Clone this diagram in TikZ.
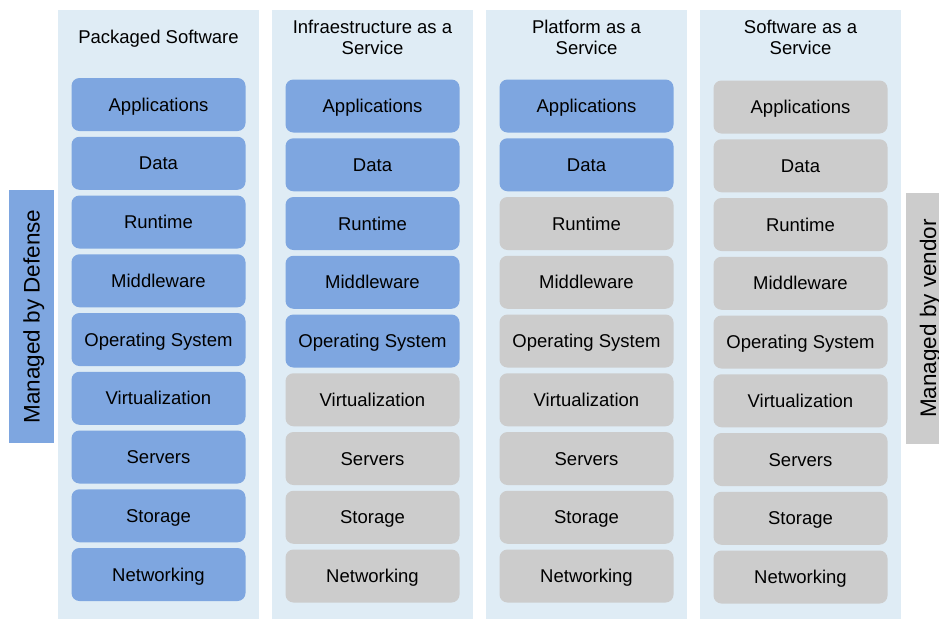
\documentclass[tikz,border=0pt]{standalone}
\usepackage{fontspec}
\setmainfont{Liberation Sans}
\definecolor{laneblue}{HTML}{DFECF5}
\definecolor{ownblue}{HTML}{7EA6E0}
\definecolor{vendgray}{HTML}{CCCCCC}

\begin{document}
\begin{tikzpicture}[x=1pt,y=-1pt,
 layer/.style={rounded corners=8pt,minimum width=174pt,minimum height=53pt,inner sep=0pt,text height=13pt,text depth=0pt,font=\fontsize{18.5}{21}\selectfont},
 own/.style={layer,fill=ownblue},
 vend/.style={layer,fill=vendgray},
 head/.style={align=center,inner sep=0pt,font=\fontsize{18.5}{21}\selectfont},
 side/.style={rotate=90,inner sep=0pt,text height=16pt,text depth=0pt,font=\fontsize{22.5}{26}\selectfont}]
 \useasboundingbox (0,0) rectangle (939,619);
 % lanes
 \fill[laneblue] (58,10) rectangle (259,619);
 \fill[laneblue] (272,10) rectangle (473,619);
 \fill[laneblue] (486,10) rectangle (687,619);
 \fill[laneblue] (700,10) rectangle (901,619);
 % side labels
 \fill[ownblue] (9,190) rectangle (54,443);
 \fill[vendgray] (906,193) rectangle (939,444);
 \node[side] (bydef) at (31.5,316.5) {Managed by Defense};
 \node[side] (byvend) at (928,318.5) {Managed by vendor};
 % packaged software
 \node[head] (pshead) at (158.5,38.5) {Packaged Software};
 \node[own] (ps-app) at (158.5,104.5) {Applications};
 \node[own] (ps-data) at (158.5,163.25) {Data};
 \node[own] (ps-run) at (158.5,222) {Runtime};
 \node[own] (ps-mid) at (158.5,280.75) {Middleware};
 \node[own] (ps-os) at (158.5,339.5) {Operating System};
 \node[own] (ps-virt) at (158.5,398.25) {Virtualization};
 \node[own] (ps-srv) at (158.5,457) {Servers};
 \node[own] (ps-sto) at (158.5,515.75) {Storage};
 \node[own] (ps-net) at (158.5,574.5) {Networking};
 % infrastructure
 \node[head] (iaashead) at (372.5,37) {Infraestructure as a\\Service};
 \node[own] (iaas-app) at (372.5,106) {Applications};
 \node[own] (iaas-data) at (372.5,164.75) {Data};
 \node[own] (iaas-run) at (372.5,223.5) {Runtime};
 \node[own] (iaas-mid) at (372.5,282.25) {Middleware};
 \node[own] (iaas-os) at (372.5,341) {Operating System};
 \node[vend] (iaas-virt) at (372.5,399.75) {Virtualization};
 \node[vend] (iaas-srv) at (372.5,458.5) {Servers};
 \node[vend] (iaas-sto) at (372.5,517.25) {Storage};
 \node[vend] (iaas-net) at (372.5,576) {Networking};
 % platform
 \node[head] (paashead) at (586.5,37) {Platform as a\\Service};
 \node[own] (paas-app) at (586.5,106) {Applications};
 \node[own] (paas-data) at (586.5,164.75) {Data};
 \node[vend] (paas-run) at (586.5,223.5) {Runtime};
 \node[vend] (paas-mid) at (586.5,282.25) {Middleware};
 \node[vend] (paas-os) at (586.5,341) {Operating System};
 \node[vend] (paas-virt) at (586.5,399.75) {Virtualization};
 \node[vend] (paas-srv) at (586.5,458.5) {Servers};
 \node[vend] (paas-sto) at (586.5,517.25) {Storage};
 \node[vend] (paas-net) at (586.5,576) {Networking};
 % software
 \node[head] (saashead) at (800.5,37.5) {Software as a\\Service};
 \node[vend] (saas-app) at (800.5,107) {Applications};
 \node[vend] (saas-data) at (800.5,165.75) {Data};
 \node[vend] (saas-run) at (800.5,224.5) {Runtime};
 \node[vend] (saas-mid) at (800.5,283.25) {Middleware};
 \node[vend] (saas-os) at (800.5,342) {Operating System};
 \node[vend] (saas-virt) at (800.5,400.75) {Virtualization};
 \node[vend] (saas-srv) at (800.5,459.5) {Servers};
 \node[vend] (saas-sto) at (800.5,518.25) {Storage};
 \node[vend] (saas-net) at (800.5,577) {Networking};
\end{tikzpicture}
\end{document}
